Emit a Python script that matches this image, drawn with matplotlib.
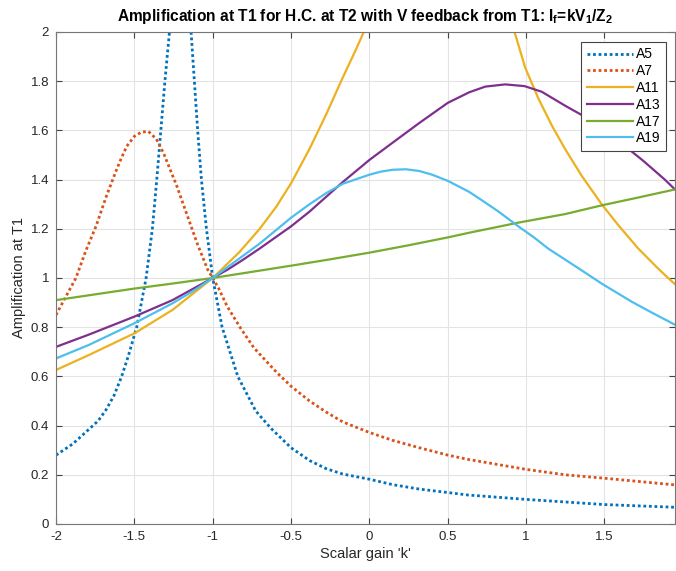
import numpy as np
import matplotlib
matplotlib.use("Agg")
import matplotlib.pyplot as plt
from matplotlib.ticker import FuncFormatter

plt.rcParams['font.family'] = ['Liberation Sans', 'DejaVu Sans']
plt.rcParams['mathtext.fontset'] = 'custom'
plt.rcParams['mathtext.rm'] = 'Liberation Sans'
plt.rcParams['mathtext.bf'] = 'Liberation Sans:bold'

nan = np.nan

# values (k, amplification)
k5 = [-2.0, -1.894, -1.79, -1.73, -1.68, -1.63, -1.581, -1.54, -1.485, -1.425, -1.385, -1.357, -1.331, -1.305,
      -1.276, nan,
      -1.138, -1.117, -1.096, -1.072, -1.04, -1.0, -0.94, -0.84, -0.726, -0.63, -0.5, -0.382, -0.276, -0.17,
      0.0, 0.148, 0.318, 0.5, 0.626, 1.0, 1.5, 1.95]
a5 = [0.28, 0.325, 0.385, 0.42, 0.465, 0.522, 0.60, 0.68, 0.80, 1.00, 1.20, 1.40, 1.60, 1.80,
      2.00, nan,
      2.00, 1.80, 1.60, 1.40, 1.20, 1.00, 0.80, 0.60, 0.46, 0.39, 0.31, 0.258, 0.225, 0.203,
      0.182, 0.16, 0.142, 0.128, 0.118, 0.10, 0.079, 0.068]

k7 = [-2.0, -1.873, -1.81, -1.745, -1.68, -1.62, -1.592, -1.549, -1.5, -1.455, -1.41, -1.36, -1.314, -1.228,
      -1.164, -1.10, -1.032, -1.0, -0.96, -0.908, -0.823, -0.737, -0.59, -0.5, -0.382, -0.276, -0.17, 0.0,
      0.148, 0.318, 0.5, 0.626, 1.0, 1.25, 1.5, 1.95]
a7 = [0.85, 1.00, 1.11, 1.21, 1.33, 1.43, 1.474, 1.535, 1.576, 1.593, 1.596, 1.565, 1.508, 1.372,
      1.257, 1.142, 1.034, 1.0, 0.955, 0.885, 0.797, 0.716, 0.615, 0.56, 0.50, 0.455, 0.415, 0.372,
      0.34, 0.31, 0.28, 0.263, 0.222, 0.20, 0.186, 0.159]

k11 = [-2.0, -1.79, -1.5, -1.257, -1.0, -0.83, -0.70, -0.594, -0.5, -0.382, -0.276, -0.17, -0.085, -0.036, nan,
       0.926, 0.994, 1.078, 1.164, 1.248, 1.355, 1.482, 1.588, 1.715, 1.832, 1.906, 1.95]
a11 = [0.626, 0.687, 0.775, 0.87, 1.0, 1.105, 1.2, 1.29, 1.385, 1.525, 1.665, 1.815, 1.93, 2.0, nan,
       2.0, 1.855, 1.73, 1.62, 1.525, 1.415, 1.30, 1.215, 1.12, 1.045, 1.0, 0.975]

k13 = [-2.0, -1.79, -1.5, -1.257, -1.0, -0.9, -0.807, -0.70, -0.5, -0.382, -0.276, -0.17, 0.0, 0.148, 0.318,
       0.5, 0.637, 0.739, 0.866, 0.99, 1.10, 1.25, 1.376, 1.5, 1.61, 1.75, 1.885, 1.95]
a13 = [0.72, 0.77, 0.843, 0.91, 1.0, 1.036, 1.074, 1.12, 1.21, 1.27, 1.33, 1.39, 1.48, 1.55, 1.63,
       1.712, 1.755, 1.778, 1.787, 1.78, 1.757, 1.70, 1.655, 1.60, 1.547, 1.475, 1.40, 1.36]

k17 = [-2.0, -1.5, -1.25, -1.0, -0.70, -0.5, -0.25, 0.0, 0.25, 0.5, 0.637, 0.95, 1.25, 1.48, 1.7, 1.95]
a17 = [0.91, 0.957, 0.978, 1.0, 1.03, 1.05, 1.076, 1.103, 1.133, 1.165, 1.184, 1.225, 1.26, 1.295, 1.325, 1.36]

k19 = [-2.0, -1.79, -1.5, -1.257, -1.13, -1.0, -0.85, -0.70, -0.5, -0.382, -0.276, -0.17, 0.0, 0.07, 0.148,
       0.233, 0.318, 0.4, 0.5, 0.637, 0.72, 0.824, 0.95, 1.05, 1.14, 1.333, 1.44, 1.48, 1.673, 1.8, 1.95]
a19 = [0.673, 0.728, 0.816, 0.897, 0.945, 1.0, 1.07, 1.14, 1.245, 1.30, 1.345, 1.383, 1.42, 1.432, 1.44,
       1.442, 1.435, 1.42, 1.395, 1.35, 1.315, 1.27, 1.21, 1.165, 1.12, 1.04, 0.995, 0.978, 0.904, 0.86, 0.81]

colors = ['#0072BD', '#D95319', '#EDB120', '#7E2F8E', '#77AC30', '#4DBEEE']

fig = plt.figure(figsize=(6.76, 5.71), dpi=100)
ax = fig.add_axes([56/676, 1-524/571, 619/676, 492/571])

dot = (0, (1, 1))
ax.plot(k5, a5, color=colors[0], lw=2, ls=dot, dash_capstyle='butt', label='A5')
ax.plot(k7, a7, color=colors[1], lw=2, ls=dot, dash_capstyle='butt', label='A7')
ax.plot(k11, a11, color=colors[2], lw=1.6, label='A11')
ax.plot(k13, a13, color=colors[3], lw=1.6, label='A13')
ax.plot(k17, a17, color=colors[4], lw=1.6, label='A17')
ax.plot(k19, a19, color=colors[5], lw=1.6, label='A19')

ax.set_xlim(-2, 1.95)
ax.set_ylim(0, 2)
ax.set_xticks(np.arange(-2, 1.51, 0.5))
ax.set_yticks(np.arange(0, 2.01, 0.2))
fmt = FuncFormatter(lambda v, p: '%g' % round(v, 2))
ax.xaxis.set_major_formatter(fmt)
ax.yaxis.set_major_formatter(fmt)
ax.grid(True, color='#e3e3e3', lw=0.8)
ax.set_axisbelow(True)
ax.tick_params(direction='in', top=True, right=True, length=4, width=0.8,
               color='#444444', labelsize=9.5, labelcolor='#262626', pad=5)
for s in ax.spines.values():
    s.set_color('#777777')
    s.set_linewidth(0.8)

ax.set_xlabel("Scalar gain 'k'", fontsize=10.5, color='#262626', labelpad=3)
ax.set_ylabel('Amplification at T1', fontsize=10.5, color='#262626', labelpad=3)
ax.set_title(r'Amplification at T1 for H.C. at T2 with V feedback from T1: I$_\mathbf{f}$=kV$_\mathbf{1}$/Z$_\mathbf{2}$',
             fontsize=11.2, fontweight='bold', pad=8)

leg = ax.legend(loc='upper right', bbox_to_anchor=(0.985, 0.98), borderaxespad=0,
                fontsize=10, handlelength=3.3, labelspacing=0.2, handletextpad=0.2,
                borderpad=0.4, fancybox=False, framealpha=1, edgecolor='#444444')
leg.get_frame().set_linewidth(0.8)

fig.savefig('out.png', dpi=100)
